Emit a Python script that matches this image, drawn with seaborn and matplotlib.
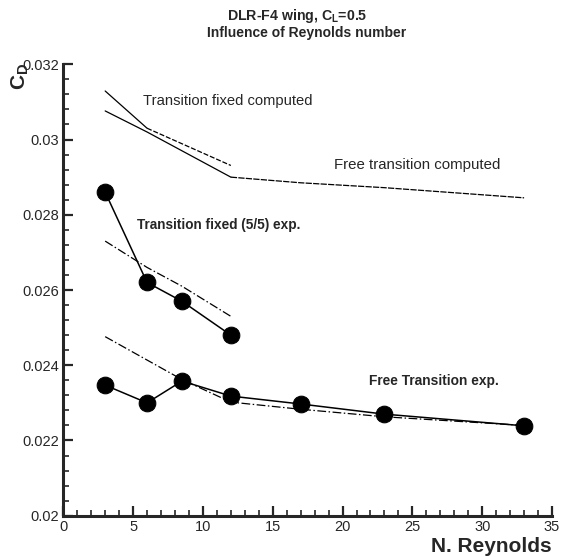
import numpy as np
import pandas as pd
import seaborn as sns
import matplotlib
matplotlib.use("Agg")
from matplotlib import pyplot as plt
from matplotlib.ticker import MultipleLocator

# Reynolds numbers (millions) and drag coefficients
re_fixed = [3, 6, 8.5, 12]
cd_fixed_exp = [0.0286, 0.0262, 0.0257, 0.0248]
cd_fixed_fit = [0.0273, 0.0266, 0.0261, 0.0253]

re_free = [3, 6, 8.5, 12, 17, 23, 33]
cd_free_exp = [0.02347, 0.0230, 0.02358, 0.02318, 0.02297, 0.0227, 0.02239]
re_free_fit = [3, 8.5, 12, 17, 23, 33]
cd_free_fit = [0.02476, 0.02362, 0.02302, 0.02283, 0.02263, 0.0224]

re_comp_a = [3, 6, 12]
cd_comp_a = [0.03129, 0.0303, 0.02931]
re_comp_b = [3, 6, 12, 17, 23, 33]
cd_comp_b = [0.03076, 0.0302, 0.0290, 0.02885, 0.02872, 0.02845]

sns.set_style("ticks")
plt.rcParams['font.family'] = ['Liberation Sans', 'DejaVu Sans']

fig = plt.figure(figsize=(5.61, 5.57), dpi=100)
ax = fig.add_axes([0.1128, 0.0741, 0.8712, 0.8105])

dashdot = (0, (7, 2, 1.2, 2))
kw = dict(ax=ax, color="black", estimator=None, sort=False, legend=False)

# computed curves
sns.lineplot(x=re_comp_a[:2], y=cd_comp_a[:2], lw=0.9, **kw)
sns.lineplot(x=re_comp_a[1:], y=cd_comp_a[1:], lw=0.9, linestyle=(0, (4, 1.5)), **kw)
sns.lineplot(x=re_comp_b[:3], y=cd_comp_b[:3], lw=0.9, **kw)
sns.lineplot(x=re_comp_b[2:], y=cd_comp_b[2:], lw=0.9, linestyle=(0, (5, 1)), **kw)

# fits
sns.lineplot(x=re_fixed, y=cd_fixed_fit, lw=0.9, linestyle=dashdot, **kw)
sns.lineplot(x=re_free_fit, y=cd_free_fit, lw=0.9, linestyle=dashdot, **kw)

# experiments
sns.lineplot(x=re_fixed, y=cd_fixed_exp, lw=1.1, marker="o", markersize=12,
             markerfacecolor="black", markeredgecolor="black", **kw)
sns.lineplot(x=re_free, y=cd_free_exp, lw=1.1, marker="o", markersize=12,
             markerfacecolor="black", markeredgecolor="black", **kw)

ax.set_xlim(0, 35)
ax.set_ylim(0.02, 0.032)
ax.xaxis.set_major_locator(MultipleLocator(5))
ax.xaxis.set_minor_locator(MultipleLocator(1))
ax.yaxis.set_minor_locator(MultipleLocator(0.0004))
ax.set_yticks([0.02, 0.022, 0.024, 0.026, 0.028, 0.03, 0.032])
ax.set_yticklabels(["0.02", "0.022", "0.024", "0.026", "0.028", "0.03", "0.032"])
ax.tick_params(which="major", direction="in", length=7, width=1.6, labelsize=10.5, pad=3)
ax.tick_params(which="minor", direction="in", length=4, width=1.2)
for s in ["top", "right"]:
    ax.spines[s].set_visible(False)
for s in ["left", "bottom"]:
    ax.spines[s].set_linewidth(2.2)
ax.set_xlabel("")
ax.set_ylabel("")

ax.text(5.7, 0.03102, "Transition fixed computed", fontsize=10.6, va="center")
ax.text(19.4, 0.02931, "Free transition computed", fontsize=10.8, va="center")
ax.text(5.3, 0.02773, "Transition fixed (5/5) exp.", fontsize=9.8,
        fontweight="bold", va="center")
ax.text(21.9, 0.02357, "Free Transition exp.", fontsize=9.9,
        fontweight="bold", va="center")

fig.text(0.53, 0.972, "DLR-F4 wing, C$_\\mathregular{L}$=0.5", fontsize=10.2,
         fontweight="bold", ha="center", va="center")
fig.text(0.547, 0.941, "Influence of Reynolds number", fontsize=10,
         fontweight="bold", ha="center", va="center")
fig.text(0.036, 0.862, "C$_\\mathregular{D}$", fontsize=15, fontweight="bold",
         rotation=90, ha="center", va="center")
fig.text(0.984, 0.018, "N. Reynolds", fontsize=15, fontweight="bold",
         ha="right", va="center")

fig.savefig("out.png", dpi=100)
